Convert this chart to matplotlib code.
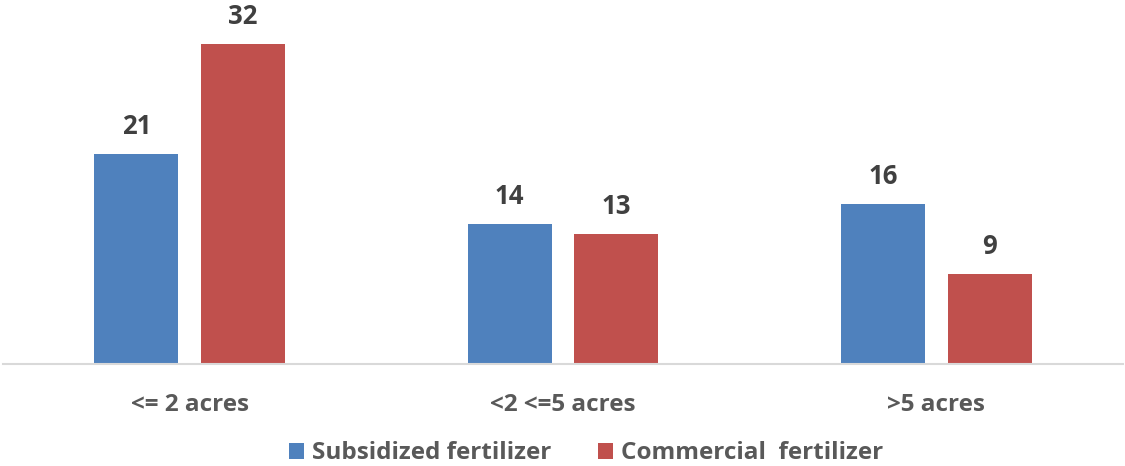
import numpy as np
import matplotlib.pyplot as plt

categories = ['<= 2 acres', '<2 <=5 acres', '>5 acres']
subsidized = [21, 14, 16]
commercial = [32, 13, 9]
series_names = ['Subsidized fertilizer', 'Commercial  fertilizer']

blue = '#4F81BD'
red = '#C0504D'
txt = '#595959'
val_txt = '#404040'

plt.rcParams['font.family'] = ['Open Sans', 'DejaVu Sans']

fig = plt.figure(figsize=(11.25, 4.66), dpi=100)
ax = fig.add_axes([0.0027, 0.219, 0.9955, 0.75])

x = np.arange(len(categories))
w = 0.225
off = 0.143
b1 = ax.bar(x - off, subsidized, w, color=blue, label=series_names[0])
b2 = ax.bar(x + off, commercial, w, color=red, label=series_names[1])

for bars, vals in [(b1, subsidized), (b2, commercial)]:
    for rect, v in zip(bars, vals):
        ax.text(rect.get_x() + rect.get_width() / 2, v + 1.4, str(v),
                ha='center', va='bottom', fontsize=18.5, fontweight='bold', color=val_txt)

ax.set_xlim(-0.5, 2.5)
ax.set_ylim(0, 35)
ax.set_xticks(x)
ax.set_xticklabels(categories, fontsize=17.5, fontweight='bold', color=txt)
ax.tick_params(axis='x', length=0, pad=21)
ax.set_yticks([])
for s in ['top', 'right', 'left']:
    ax.spines[s].set_visible(False)
ax.spines['bottom'].set_color('#D9D9D9')
ax.spines['bottom'].set_linewidth(1.5)

fig.legend(loc='center', bbox_to_anchor=(0.521, 0.027), ncol=2, frameon=False,
           prop={'size': 17.5, 'weight': 'bold'}, labelcolor=txt,
           handlelength=0.62, handleheight=0.62, handletextpad=0.33, columnspacing=1.9)

fig.savefig('out.png', dpi=100)
